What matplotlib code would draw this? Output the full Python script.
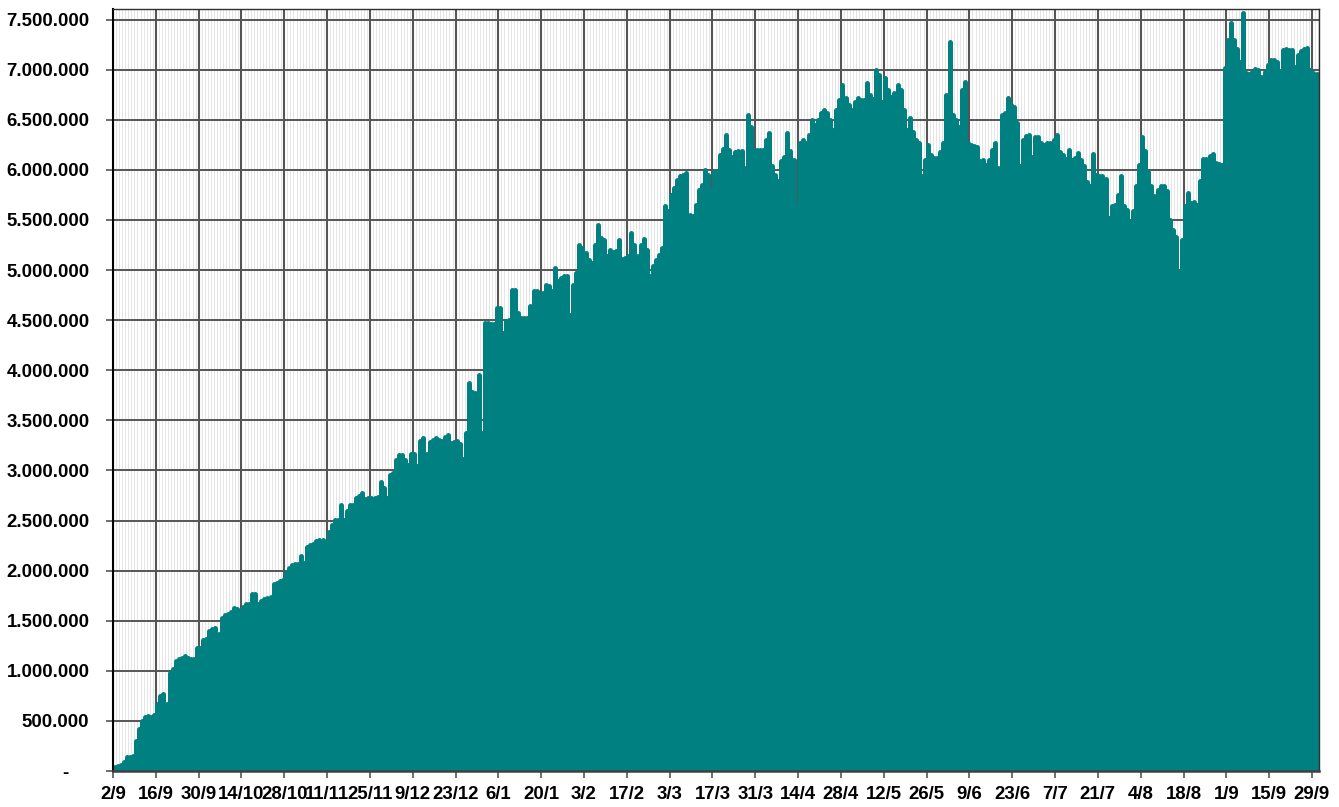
import numpy as np
import matplotlib
matplotlib.use("Agg")
import matplotlib.pyplot as plt
from matplotlib.ticker import FixedLocator, FuncFormatter

# Daily values (in thousands), starting 2/9
values_sep_nov = [
    40, 50, 55, 93, 135, 140, 150, 300, 415, 500,
    540, 550, 540, 560, 673, 750, 765, 670, 975, 1020,
    1100, 1120, 1130, 1150, 1130, 1120, 1120, 1230, 1230, 1310,
    1320, 1400, 1420, 1430, 1370, 1530, 1560, 1570, 1590, 1630,
    1620, 1600, 1640, 1670, 1670, 1770, 1770, 1670, 1700, 1720,
    1730, 1740, 1870, 1880, 1900, 1910, 1990, 2030, 2060, 2070,
    2070, 2150, 2080, 2240, 2260, 2270, 2300, 2310, 2310, 2290,
    2390, 2460, 2510, 2510, 2650, 2510, 2590, 2650, 2650, 2720,
    2740, 2770, 2710, 2720, 2720, 2720, 2730, 2880, 2820, 2720,
]
values_dec_feb = [
    2950, 2970, 3100, 3150, 3150, 3100, 3050, 3160, 3160, 3040,
    3290, 3320, 3160, 3280, 3300, 3320, 3300, 3290, 3330, 3350,
    3270, 3280, 3290, 3260, 3110, 3370, 3870, 3780, 3770, 3950,
    3370, 4470, 4470, 4460, 4460, 4620, 4620, 4370, 4490, 4500,
    4800, 4800, 4570, 4520, 4520, 4520, 4640, 4790, 4790, 4740,
    4770, 4850, 4840, 4790, 5020, 4890, 4920, 4940, 4940, 4550,
    4850, 4970, 5250, 5220, 5170, 5100, 5070, 5250, 5450, 5320,
    5300, 5140, 5200, 5180, 5190, 5300, 5110, 5120, 5140, 5370,
    5250, 5140, 5250, 5310, 5200, 4940, 5040, 5100, 5150, 5220,
]
values_mar_may = [
    5640, 5590, 5750, 5820, 5900, 5940, 5950, 5970, 5550, 5540,
    5650, 5800, 5850, 6000, 5950, 5800, 5990, 5970, 6150, 6210,
    6350, 6200, 6130, 6180, 6190, 6190, 6020, 6550, 6430, 6200,
    6200, 6200, 6200, 6300, 6370, 6040, 5950, 5890, 6090, 6130,
    6370, 6190, 6100, 5650, 6270, 6300, 6270, 6350, 6500, 6450,
    6500, 6570, 6600, 6570, 6500, 6400, 6600, 6700, 6850, 6720,
    6650, 6600, 6680, 6720, 6700, 6700, 6870, 6750, 6710, 7000,
    6950, 6680, 6920, 6800, 6730, 6770, 6850, 6800, 6600, 6400,
    6520, 6380, 6300, 6270, 5940, 6100, 6250, 6150, 6120, 6120,
]
values_jun_aug = [
    6180, 6270, 6750, 7280, 6550, 6500, 6430, 6800, 6880, 6270,
    6250, 6240, 6230, 6090, 6100, 6050, 6100, 6200, 6270, 6020,
    6550, 6570, 6720, 6650, 6630, 6470, 6040, 6300, 6340, 6350,
    6130, 6330, 6330, 6270, 6250, 6270, 6270, 6300, 6350, 6180,
    6150, 6110, 6200, 6100, 6120, 6170, 6100, 6040, 5880, 5840,
    6160, 5950, 5940, 5940, 5910, 5520, 5640, 5650, 5750, 5940,
    5640, 5600, 5490, 5590, 5840, 6050, 6330, 6190, 5980, 5840,
    5740, 5800, 5840, 5840, 5790, 5500, 5400, 5330, 4980, 5300,
    5640, 5770, 5670, 5680, 5650, 5890, 6110, 6110, 6140, 6160,
    6070, 6060, 6050, 7020,
]
values_sep = [
    7300, 7470, 7300, 7210, 7080, 7570, 6970, 6960, 6980, 7010,
    7000, 6930, 6980, 7050, 7100, 7100, 7080, 6980, 7200, 7210,
    7200, 7200, 7030, 7150, 7190, 7210, 7220, 7000, 6970, 6960,
]

tick_labels = ['2/9', '16/9', '30/9', '14/10', '28/10', '11/11', '25/11', '9/12',
               '23/12', '6/1', '20/1', '3/2', '17/2', '3/3', '17/3', '31/3', '14/4',
               '28/4', '12/5', '26/5', '9/6', '23/6', '7/7', '21/7', '4/8', '18/8',
               '1/9', '15/9', '29/9']
y_ticks = [0, 500000, 1000000, 1500000, 2000000, 2500000, 3000000, 3500000,
           4000000, 4500000, 5000000, 5500000, 6000000, 6500000, 7000000, 7500000]

values = np.array(values_sep_nov + values_dec_feb + values_mar_may
                  + values_jun_aug + values_sep, dtype=float) * 1000
days = np.arange(len(values)) + 0.5
tick_days = np.arange(len(tick_labels)) * 14

plt.rcParams['font.family'] = ['Liberation Sans', 'DejaVu Sans']
plt.rcParams['font.weight'] = 'bold'

fig = plt.figure(figsize=(13.39, 8.07), dpi=100)
ax = fig.add_axes([113 / 1339, 36 / 807, 1206 / 1339, 762 / 807])

teal = '#008080'
ax.vlines(days, 0, values, colors=teal, linewidth=3.6, capstyle='round', zorder=3)

ax.set_xlim(0, 394.3)
ax.set_ylim(0, 7.605e6)

ax.xaxis.set_major_locator(FixedLocator(tick_days))
minor = [d for d in range(0, 395) if d % 14 != 0]
ax.xaxis.set_minor_locator(FixedLocator(minor))
ax.set_xticklabels(tick_labels)

ax.yaxis.set_major_locator(FixedLocator(y_ticks))


def fmt(v, pos):
    if v == 0:
        return '-    '
    return f"{int(round(v)):,}".replace(',', '.')


ax.yaxis.set_major_formatter(FuncFormatter(fmt))

ax.set_axisbelow(True)
ax.grid(which='minor', axis='x', color='#e0e0e0', linewidth=0.6)
ax.grid(which='major', axis='x', color='#555555', linewidth=1.5)
ax.grid(which='major', axis='y', color='#555555', linewidth=1.4)

ax.tick_params(axis='y', direction='out', length=5, width=1.2, color='#555555',
               pad=12, labelsize=13.4)
ax.tick_params(axis='x', which='major', direction='out', length=5, width=1.2,
               color='#555555', pad=6, labelsize=13.4)
ax.tick_params(axis='x', which='minor', length=0)

for s in ['top', 'right']:
    ax.spines[s].set_color('#303030')
    ax.spines[s].set_linewidth(1.0)
ax.spines['left'].set_color('black')
ax.spines['left'].set_linewidth(1.5)
ax.spines['bottom'].set_color('#404040')
ax.spines['bottom'].set_linewidth(1.8)
for s in ax.spines.values():
    s.set_zorder(4)

for lab in ax.get_xticklabels() + ax.get_yticklabels():
    lab.set_fontweight('bold')

fig.savefig('out.png', dpi=100)
